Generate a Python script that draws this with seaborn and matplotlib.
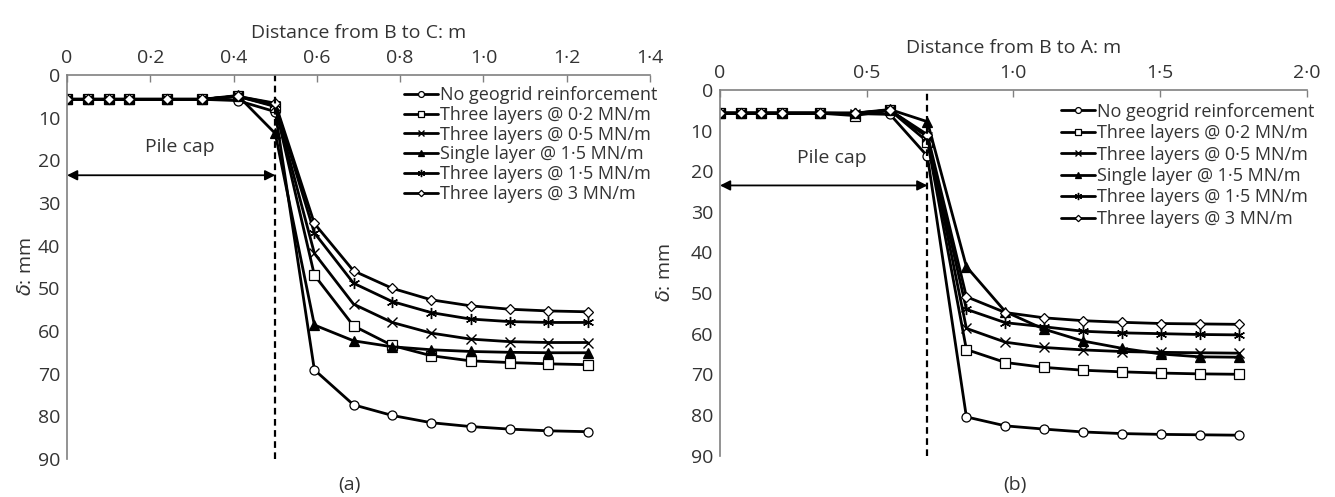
import matplotlib
matplotlib.use("Agg")
import matplotlib.pyplot as plt
from matplotlib.ticker import FixedLocator
import seaborn as sns
import pandas as pd

sns.set_style("white")
plt.rcParams['font.family'] = ['Open Sans', 'DejaVu Sans']
plt.rcParams['mathtext.fontset'] = 'dejavusans'

# ---------------- data ----------------
series_names = ["No geogrid reinforcement",
                "Three layers @ 0·2 MN/m",
                "Three layers @ 0·5 MN/m",
                "Single layer @ 1·5 MN/m",
                "Three layers @ 1·5 MN/m",
                "Three layers @ 3 MN/m"]

# Panel (a): distance from B to C (m)
x_a = [0, 0.05, 0.10, 0.15, 0.24, 0.325, 0.41, 0.50,
       0.594, 0.688, 0.781, 0.875, 0.969, 1.063, 1.156, 1.25]
a_none = [5.7, 5.7, 5.7, 5.7, 5.7, 5.7, 6.0, 8.6,
          69.1, 77.3, 79.8, 81.5, 82.4, 83.0, 83.4, 83.6]
a_02 = [5.7, 5.7, 5.7, 5.7, 5.7, 5.7, 5.0, 7.4,
        46.9, 58.8, 63.4, 65.8, 67.0, 67.4, 67.7, 67.9]
a_05 = [5.7, 5.7, 5.7, 5.7, 5.7, 5.7, 5.0, 7.2,
        41.8, 53.7, 58.0, 60.5, 61.9, 62.5, 62.7, 62.7]
a_single = [5.7, 5.7, 5.7, 5.7, 5.7, 5.7, 4.8, 13.7,
            58.6, 62.3, 63.7, 64.4, 64.8, 65.0, 65.1, 65.1]
a_15 = [5.7, 5.7, 5.7, 5.7, 5.7, 5.7, 5.0, 6.8,
        37.0, 48.8, 53.1, 55.7, 57.2, 57.8, 58.0, 58.0]
a_3 = [5.7, 5.7, 5.7, 5.7, 5.7, 5.7, 5.0, 6.6,
       34.8, 45.9, 50.0, 52.7, 54.1, 54.9, 55.3, 55.5]

# Panel (b): distance from B to A (m)
x_b = [0, 0.0707, 0.1414, 0.2121, 0.3394, 0.4596, 0.5798, 0.7071,
       0.840, 0.973, 1.105, 1.237, 1.370, 1.503, 1.635, 1.768]
b_none = [5.7, 5.7, 5.7, 5.7, 5.7, 5.8, 6.0, 16.3,
          80.5, 82.7, 83.5, 84.2, 84.6, 84.8, 84.9, 85.0]
b_02 = [5.7, 5.7, 5.7, 5.7, 5.7, 6.3, 5.0, 12.7,
        63.9, 67.1, 68.3, 69.0, 69.4, 69.7, 69.9, 70.0]
b_05 = [5.7, 5.7, 5.7, 5.7, 5.7, 5.8, 5.0, 11.5,
        58.7, 62.1, 63.4, 64.0, 64.4, 64.6, 64.7, 64.8]
b_single = [5.7, 5.7, 5.7, 5.7, 5.7, 5.7, 4.8, 7.8,
            43.5, 54.6, 58.9, 61.8, 63.6, 65.0, 65.7, 65.8]
b_15 = [5.7, 5.7, 5.7, 5.7, 5.7, 5.7, 5.0, 11.5,
        54.0, 57.3, 58.3, 59.4, 59.8, 60.0, 60.2, 60.3]
b_3 = [5.7, 5.7, 5.7, 5.7, 5.7, 5.7, 5.0, 11.0,
       50.9, 54.8, 56.1, 56.8, 57.2, 57.5, 57.6, 57.7]

xticks_a = [0, 0.2, 0.4, 0.6, 0.8, 1.0, 1.2, 1.4]
xticklabels_a = ["0", "0·2", "0·4", "0·6", "0·8", "1·0", "1·2", "1·4"]
xticks_b = [0, 0.5, 1.0, 1.5, 2.0]
xticklabels_b = ["0", "0·5", "1·0", "1·5", "2·0"]
yticks = [0, 10, 20, 30, 40, 50, 60, 70, 80, 90]

pile_edge_a = 0.5
pile_edge_b = 0.7071

# ---------------- styling ----------------
TXT = "#333333"
SPINE = "#808080"
marker_styles = [
    dict(marker='o', mfc='white', mec='black', ms=6.5, mew=0.9),
    dict(marker='s', mfc='white', mec='black', ms=6.5, mew=0.9),
    dict(marker='x', mfc='none', mec='black', ms=7, mew=1.0),
    dict(marker='^', mfc='black', mec='black', ms=7, mew=0.9),
    dict(marker=(6, 2, 0), mfc='none', mec='black', ms=8, mew=1.0),
    dict(marker='D', mfc='white', mec='black', ms=5, mew=0.9),
]

fig = plt.figure(figsize=(13.35, 4.97), dpi=100)
ax_a = fig.add_axes([0.0502, 0.0765, 0.4367, 0.7726])
ax_b = fig.add_axes([0.5393, 0.0835, 0.4395, 0.7354])


def draw(ax, x, ys, xticks, xticklabels, xmax, edge, xlabel, text_x,
         leg_anchor, lspacing, ylabelpad):
    for name, y, st in zip(series_names, ys, marker_styles):
        df = pd.DataFrame({"x": x, "y": y})
        sns.lineplot(data=df, x="x", y="y", ax=ax, color="black", lw=2.0,
                     label=name, sort=False, **st)
    ax.set_xlim(0, xmax)
    ax.set_ylim(90, 0)
    ax.xaxis.tick_top()
    ax.xaxis.set_label_position('top')
    ax.xaxis.set_major_locator(FixedLocator(xticks))
    ax.set_xticklabels(xticklabels)
    ax.yaxis.set_major_locator(FixedLocator(yticks))
    ax.set_yticklabels([str(v) for v in yticks])
    ax.tick_params(axis='both', direction='in', length=5, width=1,
                   color=SPINE, labelcolor=TXT, labelsize=14, pad=5)
    ax.tick_params(axis='x', pad=6)
    for s in ['right', 'bottom']:
        ax.spines[s].set_visible(False)
    for s in ['left', 'top']:
        ax.spines[s].set_color(SPINE)
        ax.spines[s].set_linewidth(1.2)
    ax.set_xlabel(xlabel, fontsize=14, color=TXT, labelpad=8)
    ax.set_ylabel(r"$\delta$: mm", fontsize=14, color=TXT, labelpad=ylabelpad)
    ax.axvline(edge, ymin=0, ymax=1, color="black", ls=(0, (3, 2)), lw=1.6)
    ax.annotate("", xy=(0, 23.5), xytext=(edge, 23.5),
                arrowprops=dict(arrowstyle="<|-|>", color="black", lw=1.3,
                                mutation_scale=15, shrinkA=0, shrinkB=0))
    ax.text(text_x, 19, "Pile cap", ha="center", va="bottom", fontsize=14, color=TXT)
    leg = ax.legend(loc="upper right", bbox_to_anchor=leg_anchor, frameon=False,
                    fontsize=13, handlelength=1.9, handletextpad=0.1,
                    labelspacing=lspacing, borderaxespad=0, markerscale=0.65)
    for t in leg.get_texts():
        t.set_color(TXT)
    ax.grid(False)


draw(ax_a, x_a, [a_none, a_02, a_05, a_single, a_15, a_3],
     xticks_a, xticklabels_a, 1.4, pile_edge_a, "Distance from B to C: m", 0.272,
     (1.025, 0.99), 0.1, 2)
draw(ax_b, x_b, [b_none, b_02, b_05, b_single, b_15, b_3],
     xticks_b, xticklabels_b, 2.0, pile_edge_b, "Distance from B to A: m", 0.38,
     (1.025, 0.985), 0.19, 12)

fig.text(0.262, 0.025, "(a)", ha="center", va="center", fontsize=14, color=TXT)
fig.text(0.760, 0.025, "(b)", ha="center", va="center", fontsize=14, color=TXT)

fig.savefig("out.png", dpi=100)
